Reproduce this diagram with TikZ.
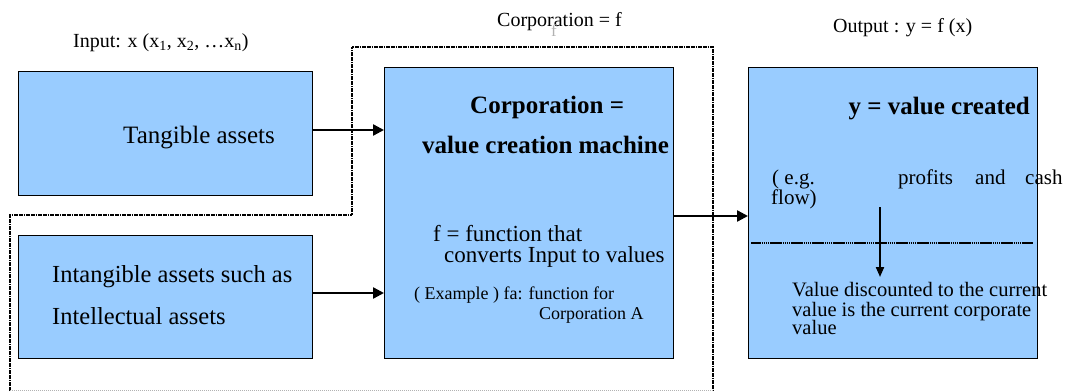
\documentclass[tikz,border=0pt]{standalone}
\usepackage{fontspec}
\setmainfont[Ligatures=TeX]{Liberation Serif}
\usetikzlibrary{arrows.meta}
\definecolor{boxblue}{HTML}{99CCFF}
\newcommand{\fsz}[1]{\fontsize{#1}{#1}\selectfont}
\tikzset{
  every node/.style={font=\rmfamily},
  blockbox/.style={draw=black, line width=0.9pt, fill=boxblue, inner sep=0pt},
  txt/.style={inner sep=0pt, anchor=base west},
  flowarrow/.style={line width=2.4pt, -{Triangle[length=11pt,width=11pt]}},
  frameline/.style={line width=2.2pt, dash pattern=on 1.8pt off 0.6pt},
}
\begin{document}
\begin{tikzpicture}[x=1pt,y=-1pt]
\useasboundingbox (0,0) rectangle (1068,391);

% dotted outline around the corporation
\draw[frameline] (10,391) -- (10,215) -- (352,215) -- (352,47) -- (713,47) -- (713,391);
\draw[gray!60, line width=1pt, dash pattern=on 1pt off 1pt] (10,390) -- (713,390);

% blocks
\node[blockbox, minimum width=294pt, minimum height=124pt, anchor=north west] (tang) at (18,71) {};
\node[blockbox, minimum width=294pt, minimum height=123pt, anchor=north west] (intang) at (18,235) {};
\node[blockbox, minimum width=289pt, minimum height=291pt, anchor=north west] (corp) at (384,67) {};
\node[blockbox, minimum width=289pt, minimum height=291pt, anchor=north west] (out) at (748,67) {};

% headings
\node[txt, font=\rmfamily\fsz{20}] (inlab) at (73,47) {Input: x (x\textsubscript{1}, x\textsubscript{2}, \ldots x\textsubscript{n})};
\node[txt, font=\rmfamily\fsz{20}] (corplab) at (497,26) {Corporation = f};
\node[txt, font=\rmfamily\fsz{17}, text=gray!60] (fmark) at (551,36) {f};
\node[txt, font=\rmfamily\fsz{20}] (outlab) at (833,32) {Output : y = f (x)};

% input texts
\node[txt, font=\rmfamily\fsz{25}] (tangt) at (123,143) {Tangible assets};
\node[txt, font=\rmfamily\fsz{24.5}] (intt1) at (52,282) {Intangible assets such as};
\node[txt, font=\rmfamily\fsz{24.5}] (intt2) at (52,324) {Intellectual assets};

% corporation texts
\node[txt, font=\rmfamily\fsz{25}\bfseries] (ct1) at (470,113) {Corporation =};
\node[txt, font=\rmfamily\fsz{25}\bfseries] (ct2) at (422,153) {value creation machine};
\node[txt, font=\rmfamily\fsz{23}] (ct3) at (433,241) {f = function that};
\node[txt, font=\rmfamily\fsz{23}] (ct4) at (444,262) {converts Input to values};
\node[txt, font=\rmfamily\fsz{18}] (ct5) at (414,299) {( Example ) fa: function for};
\node[txt, font=\rmfamily\fsz{18}] (ct6) at (539,319) {Corporation A};

% output texts
\node[inner sep=0pt, anchor=base east, font=\rmfamily\fsz{25}\bfseries] (ot1) at (1030,114) {y = value created};
\node[txt, font=\rmfamily\fsz{21}] (ot2) at (772,184) {( e.g.};
\node[txt, font=\rmfamily\fsz{21}] (ot3) at (898,184) {profits};
\node[txt, font=\rmfamily\fsz{21}] (ot4) at (975,184) {and};
\node[txt, font=\rmfamily\fsz{21}] (ot5) at (1025,184) {cash};
\node[txt, font=\rmfamily\fsz{21}] (ot6) at (771,204) {flow)};
\node[txt, font=\rmfamily\fsz{20.5}] (ot7) at (792,296) {Value discounted to the current};
\node[txt, font=\rmfamily\fsz{20.5}] (ot8) at (792,316) {value is the current corporate};
\node[txt, font=\rmfamily\fsz{20.5}] (ot9) at (792,334) {value};

% divider inside the output block
\coordinate (divl) at (751,243);
\coordinate (divr) at (1033,243);
\draw[line width=2.6pt, dash pattern=on 1.6pt off 0.5pt] (divl) -- (divr);
\coordinate (dtop) at (880,207);
\coordinate (dbot) at (880,277);
\draw[line width=2pt, -{Triangle[length=10pt,width=8pt]}] (dtop) -- (dbot);

% flows
\draw[flowarrow] (tang.east |- 0,130) -- (corp.west |- 0,130);
\draw[flowarrow] (intang.east |- 0,293) -- (corp.west |- 0,293);
\draw[flowarrow] (corp.east |- 0,216) -- (out.west |- 0,216);
\end{tikzpicture}
\end{document}
